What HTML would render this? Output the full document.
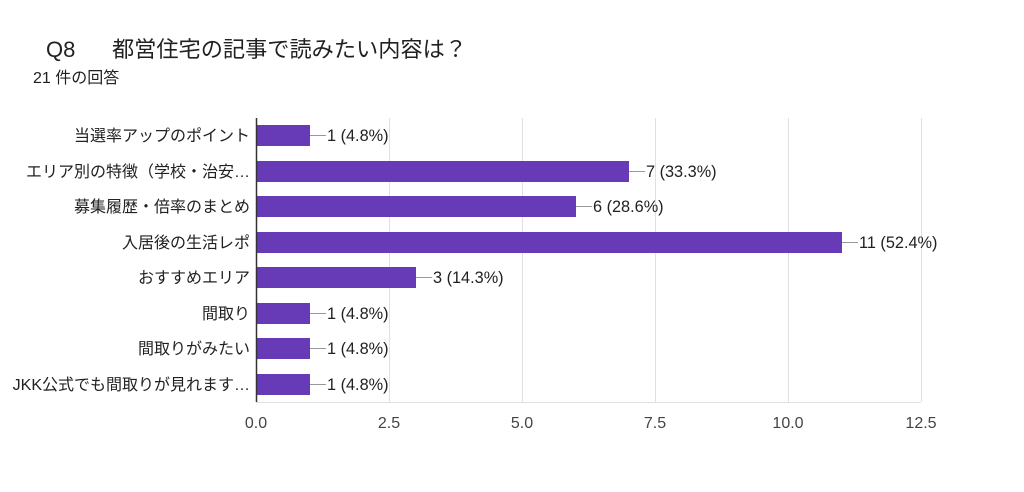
<!DOCTYPE html>
<html><head><meta charset="utf-8"><style>
body{margin:0;background:#fff;width:1024px;height:487px;overflow:hidden}
svg{font-family:"Liberation Sans","Noto Sans CJK JP",sans-serif}
</style></head><body>
<svg width="1024" height="487" xmlns="http://www.w3.org/2000/svg">
<text x="46" y="57" font-size="22" fill="#212121">Q8</text>
<text x="112" y="57" font-size="22.2" fill="#212121">都営住宅の記事で読みたい内容は？</text>
<text x="33" y="83" font-size="16" fill="#212121">21 件の回答</text>
<g stroke="#e0e0e0" stroke-width="1">
<line x1="389.5" y1="118" x2="389.5" y2="402"/>
<line x1="522.5" y1="118" x2="522.5" y2="402"/>
<line x1="655.5" y1="118" x2="655.5" y2="402"/>
<line x1="788.5" y1="118" x2="788.5" y2="402"/>
<line x1="921.5" y1="118" x2="921.5" y2="402"/>
<line x1="256" y1="402.5" x2="921" y2="402.5"/>
</g>
<g fill="#673ab7">
<rect x="257" y="125" width="53" height="21"/>
<rect x="257" y="161" width="372" height="21"/>
<rect x="257" y="196" width="319" height="21"/>
<rect x="257" y="232" width="585" height="21"/>
<rect x="257" y="267" width="159" height="21"/>
<rect x="257" y="303" width="53" height="21"/>
<rect x="257" y="338" width="53" height="21"/>
<rect x="257" y="374" width="53" height="21"/>
</g>
<line x1="256.5" y1="118" x2="256.5" y2="402" stroke="#333" stroke-width="1.5"/>
<g stroke="#999" stroke-width="1">
<line x1="310" y1="135.5" x2="326" y2="135.5"/>
<line x1="629" y1="171.5" x2="645" y2="171.5"/>
<line x1="576" y1="206.5" x2="592" y2="206.5"/>
<line x1="842" y1="242.5" x2="858" y2="242.5"/>
<line x1="416" y1="277.5" x2="432" y2="277.5"/>
<line x1="310" y1="313.5" x2="326" y2="313.5"/>
<line x1="310" y1="348.5" x2="326" y2="348.5"/>
<line x1="310" y1="384.5" x2="326" y2="384.5"/>
</g>
<g font-size="16.3" fill="#212121">
<text x="327" y="141">1 (4.8%)</text>
<text x="646" y="177">7 (33.3%)</text>
<text x="593" y="212">6 (28.6%)</text>
<text x="859" y="248">11 (52.4%)</text>
<text x="433" y="283">3 (14.3%)</text>
<text x="327" y="319">1 (4.8%)</text>
<text x="327" y="354">1 (4.8%)</text>
<text x="327" y="390">1 (4.8%)</text>
</g>
<g font-size="16" fill="#212121" text-anchor="end">
<text x="250" y="141">当選率アップのポイント</text>
<text x="250" y="177">エリア別の特徴（学校・治安…</text>
<text x="250" y="212">募集履歴・倍率のまとめ</text>
<text x="250" y="248">入居後の生活レポ</text>
<text x="250" y="283">おすすめエリア</text>
<text x="250" y="319">間取り</text>
<text x="250" y="354">間取りがみたい</text>
<text x="250" y="390">JKK公式でも間取りが見れます…</text>
</g>
<g font-size="16" fill="#444" text-anchor="middle">
<text x="256" y="428">0.0</text>
<text x="389" y="428">2.5</text>
<text x="522" y="428">5.0</text>
<text x="655" y="428">7.5</text>
<text x="788" y="428">10.0</text>
<text x="921" y="428">12.5</text>
</g>
</svg>
</body></html>
